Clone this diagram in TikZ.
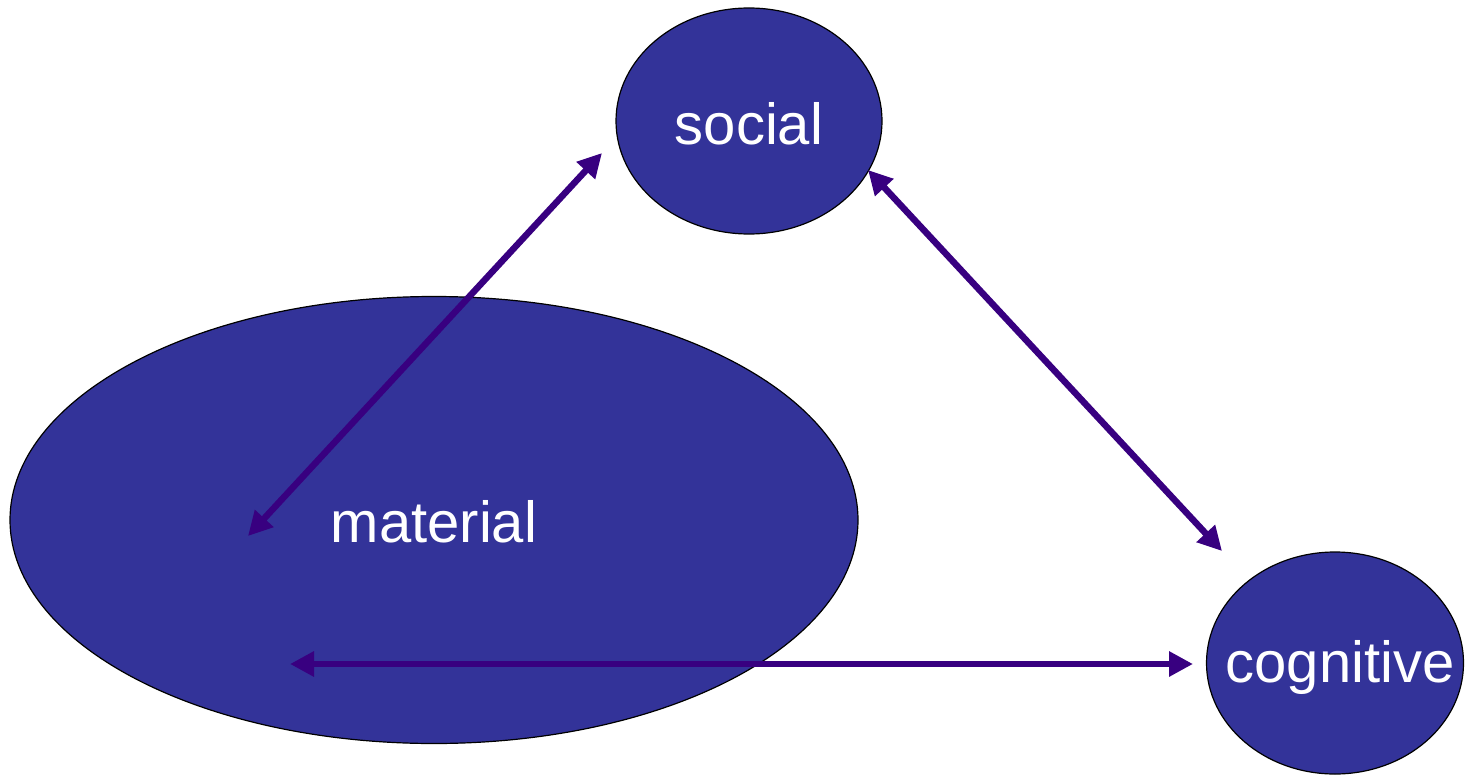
\documentclass[tikz,border=0pt]{standalone}
\usepackage{fontspec}
\setmainfont{Liberation Sans}
\usetikzlibrary{shapes.geometric,arrows.meta}
\definecolor{blobfill}{HTML}{333399}
\definecolor{linkcol}{HTML}{380080}
\tikzset{
  blob/.style={ellipse, draw=black, line width=1.2pt, fill=blobfill, text=white,
    inner sep=0pt, font=\fontsize{58}{60}\selectfont},
  link/.style={draw=linkcol, line width=6.5pt,
    {Triangle[length=24pt,width=24pt]}-{Triangle[length=24pt,width=24pt]}}
}
\begin{document}
\begin{tikzpicture}[x=1pt,y=-1pt]
  \useasboundingbox (0,0) rectangle (1466,778);
  % the three domains
  \node[blob, minimum width=266pt, minimum height=226pt] (social) at (749,121) {};
  \node[blob, minimum width=848pt, minimum height=447pt] (material) at (434,520) {};
  \node[blob, minimum width=257pt, minimum height=222pt] (cognitive) at (1335,663) {};
  % labels
  \node[text=white, font=\fontsize{58}{60}\selectfont] (socialtxt) at (749,124) {social};
  \node[text=white, font=\fontsize{58}{60}\selectfont] (materialtxt) at (434,522) {material};
  \node[text=white, font=\fontsize{58}{60}\selectfont] (cognitivetxt) at (1340,667) {cognitive};
  % link end points
  \coordinate (mTop) at (248,536);
  \coordinate (sLeft) at (602,153);
  \coordinate (sRight) at (868,170);
  \coordinate (cTop) at (1222,551);
  \coordinate (mBot) at (290,664);
  \coordinate (cLeft) at (1193,664);
  % two-way links
  \draw[link] (mTop) -- (sLeft);
  \draw[link] (sRight) -- (cTop);
  \draw[link] (mBot) -- (cLeft);
\end{tikzpicture}
\end{document}
